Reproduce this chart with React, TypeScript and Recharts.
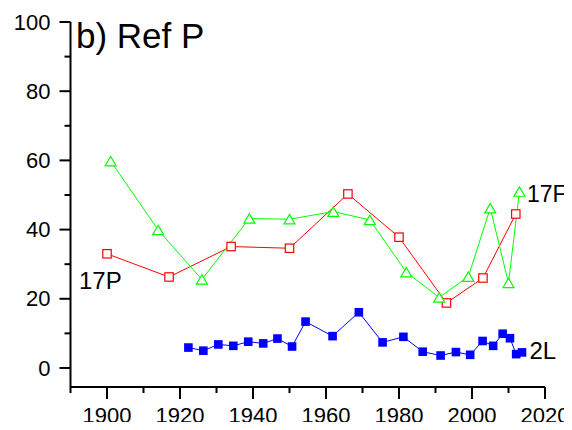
import * as React from 'react'
import { ComposedChart, Line, XAxis, YAxis } from 'recharts'

// 17F series (green triangles)
const years17F = [1901, 1914, 1926, 1939, 1950, 1962, 1972, 1982, 1991, 1999, 2005, 2010, 2013]
const values17F = [59.8, 39.9, 25.6, 43.2, 43, 45.2, 42.8, 27.7, 20.4, 26.4, 46.2, 24.6, 51]

// 17P series (red open squares)
const years17P = [1900, 1917, 1934, 1950, 1966, 1980, 1993, 2003, 2012]
const values17P = [33, 26.3, 35.1, 34.6, 50.3, 37.8, 18.8, 26, 44.5]

// 2L series (blue filled squares)
const years2L = [
	1922.3, 1926.4, 1930.5, 1934.6, 1938.7, 1942.8, 1946.7, 1950.7, 1954.4, 1961.8, 1969, 1975.5,
	1981.2, 1986.5, 1991.4, 1995.6, 1999.5, 2002.9, 2005.8, 2008.4, 2010.4, 2012.1, 2013.7,
]
const values2L = [
	5.9, 5, 6.8, 6.4, 7.6, 7.1, 8.5, 6.2, 13.4, 9.2, 16.1, 7.4, 9, 4.7, 3.6, 4.6, 3.8, 7.8, 6.4, 9.9,
	8.6, 4, 4.5,
]

const xTicks = [1890, 1900, 1910, 1920, 1930, 1940, 1950, 1960, 1970, 1980, 1990, 2000, 2010, 2020]
const yTicks = [0, 10, 20, 30, 40, 50, 60, 70, 80, 90, 100]

const toRows = (xs: number[], ys: number[]) => xs.map((year, i) => ({ year, value: ys[i] }))
const data17F = toRows(years17F, values17F)
const data17P = toRows(years17P, values17P)
const data2L = toRows(years2L, values2L)

const font = '"Liberation Sans", Arial, sans-serif'
const GREEN = '#00ff00'
const RED = '#ff0000'
const BLUE = '#0000ff'

// x ticks: tickSize 12 + tickMargin 8 below the axis line
const XTick = (props: any) => {
	const { x, y, payload } = props
	const v = payload.value
	const major = (v - 1900) % 20 === 0
	const axisY = y - 20
	return (
		<g>
			<line x1={x} x2={x} y1={axisY} y2={axisY + (major ? 12 : 6)} stroke="#000" strokeWidth={2} />
			{major && (
				<text x={x} y={y} dy="0.71em" textAnchor="middle" fontSize={22} fontFamily={font} fill="#000">
					{v}
				</text>
			)}
		</g>
	)
}

const YTick = (props: any) => {
	const { x, y, payload } = props
	const v = payload.value
	const major = v % 20 === 0
	const axisX = x + 20
	return (
		<g>
			<line x1={axisX - (major ? 11 : 6)} x2={axisX} y1={y} y2={y} stroke="#000" strokeWidth={2} />
			{major && (
				<text x={x} y={y} dy="0.35em" textAnchor="end" fontSize={22} fontFamily={font} fill="#000">
					{v}
				</text>
			)}
		</g>
	)
}

const Triangle = (props: any) => {
	const { cx, cy, index } = props
	if (cx == null || cy == null) return <g key={index} />
	const w = 5.5
	const h = 4.7
	return (
		<polygon
			key={index}
			points={`${cx - w},${cy + h} ${cx + w},${cy + h} ${cx},${cy - h}`}
			fill="#fff"
			stroke={GREEN}
			strokeWidth={1.2}
		/>
	)
}

const OpenSquare = (props: any) => {
	const { cx, cy, index } = props
	if (cx == null || cy == null) return <g key={index} />
	return <rect key={index} x={cx - 4.2} y={cy - 4.2} width={8.4} height={8.4} fill="#fff" stroke={RED} strokeWidth={1.2} />
}

const FilledSquare = (props: any) => {
	const { cx, cy, index } = props
	if (cx == null || cy == null) return <g key={index} />
	return <rect key={index} x={cx - 4.3} y={cy - 4.3} width={8.6} height={8.6} fill={BLUE} stroke="none" />
}

const App = (): JSX.Element => {
	return (
		<div style={{ position: 'relative', width: 572, height: 430, margin: -8, background: '#fff' }}>
			<ComposedChart width={572} height={430} margin={{ top: 22, right: 27, bottom: 0, left: 0 }}>
				<XAxis
					type="number"
					dataKey="year"
					domain={[1890, 2020]}
					ticks={xTicks}
					allowDataOverflow
					height={43}
					tickSize={12}
					tickMargin={8}
					tickLine={false}
					axisLine={{ stroke: '#000', strokeWidth: 2 }}
					tick={<XTick />}
					interval={0}
				/>
				<YAxis
					type="number"
					dataKey="value"
					domain={[-5.5, 100]}
					ticks={yTicks}
					allowDataOverflow
					width={70.5}
					tickSize={11}
					tickMargin={9}
					tickLine={false}
					axisLine={{ stroke: '#000', strokeWidth: 2 }}
					tick={<YTick />}
					interval={0}
				/>
				<Line
					data={data17P}
					dataKey="value"
					name="17P"
					stroke={RED}
					strokeWidth={1}
					dot={OpenSquare}
					activeDot={false}
					isAnimationActive={false}
				/>
				<Line
					data={data17F}
					dataKey="value"
					name="17F"
					stroke={GREEN}
					strokeWidth={1}
					dot={Triangle}
					activeDot={false}
					isAnimationActive={false}
				/>
				<Line
					data={data2L}
					dataKey="value"
					name="2L"
					stroke={BLUE}
					strokeWidth={1}
					dot={FilledSquare}
					activeDot={false}
					isAnimationActive={false}
				/>
			</ComposedChart>
			<svg
				width={572}
				height={430}
				style={{ position: 'absolute', left: 0, top: 0, pointerEvents: 'none' }}
			>
				<text x={76} y={48} fontSize={35} fontFamily={font} fill="#000">
					b) Ref P
				</text>
				<text x={79} y={289} fontSize={24} fontFamily={font} fill="#000">
					17P
				</text>
				<text x={527} y={201.5} fontSize={23} fontFamily={font} fill="#000">
					17F
				</text>
				<text x={529.5} y={359} fontSize={24} fontFamily={font} fill="#000">
					2L
				</text>
			</svg>
		</div>
	)
}

export default App
